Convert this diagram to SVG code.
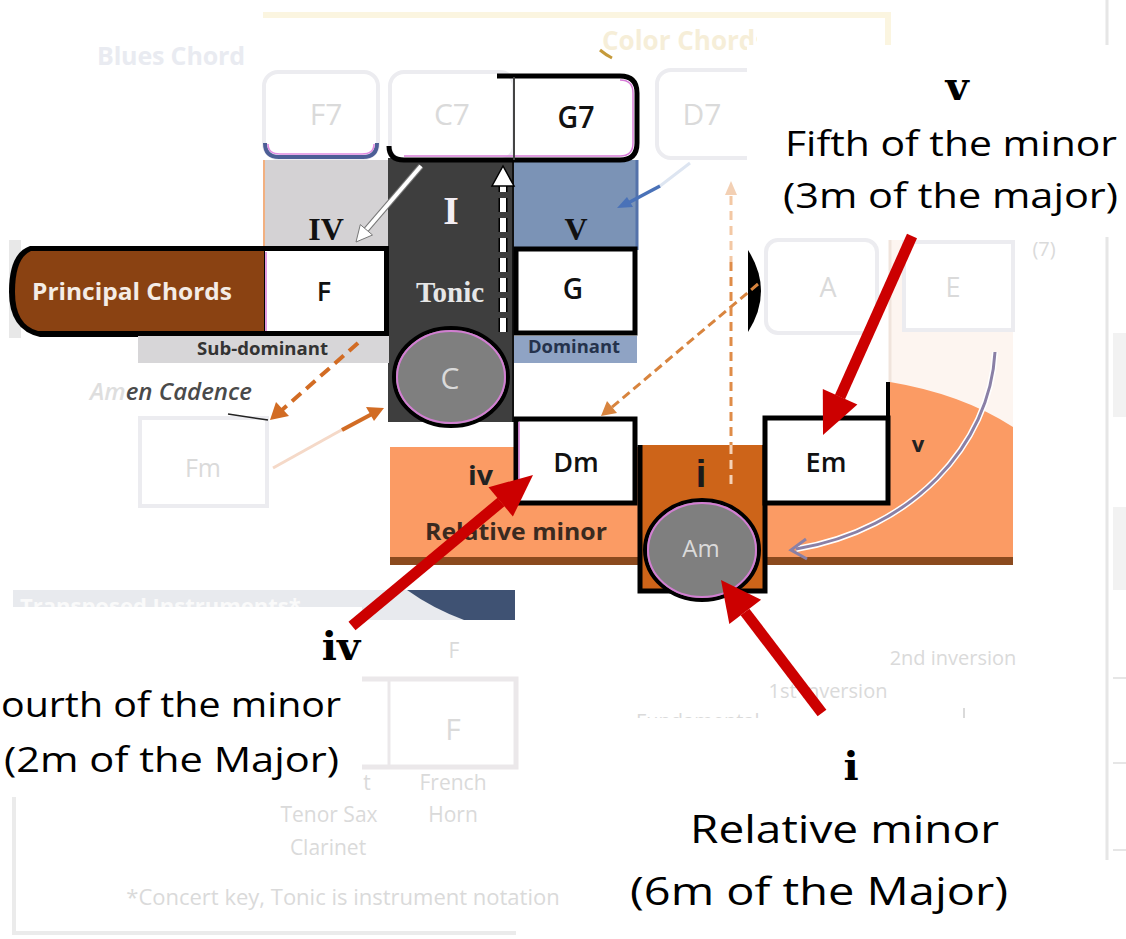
<svg xmlns="http://www.w3.org/2000/svg" width="1126" height="939" viewBox="0 0 1126 939">
<defs>
<style>
.fb{fill:#fff;stroke:#ececf0;stroke-width:4}
.ft{font-family:"Open Sans","Liberation Sans",sans-serif;fill:#dadada;text-anchor:middle}
.ch{font-family:"Open Sans","Liberation Sans",sans-serif;font-weight:600;fill:#111;text-anchor:middle}
.bx{fill:#fff;stroke:#000;stroke-width:5}
.rn{font-family:"Liberation Serif","Times New Roman",serif;font-weight:bold}
.lb{font-family:"Open Sans","Liberation Sans",sans-serif;font-weight:bold}
.an{font-family:"Open Sans","Liberation Sans",sans-serif;fill:#000}
.anr{font-family:"DejaVu Serif",serif;font-weight:bold;fill:#000;text-anchor:middle}
.red{stroke:#cc0000;stroke-width:11;fill:none}
.redh{fill:#cc0000}
.od{stroke:#d26c24;stroke-width:4;fill:none;stroke-dasharray:12 7}
.oh{fill:#d26c24}
.wb{fill:#fff}
</style>
<clipPath id="colorclip"><rect x="0" y="0" width="757" height="80"/></clipPath>
</defs>
<rect width="1126" height="939" fill="#fff"/>

<g id="background-faded">
  <rect x="263" y="12" width="628" height="6" fill="#fbf5e0"/>
  <rect x="885" y="12" width="6" height="36" fill="#fbf5e0"/>
  <text x="97" y="65" font-family="Open Sans, Liberation Sans, sans-serif" font-weight="bold" font-size="25" fill="#e9ebf1" textLength="148">Blues Chord</text>
  <text x="602" y="50" clip-path="url(#colorclip)" font-family="Open Sans, Liberation Sans, sans-serif" font-weight="bold" font-size="26" fill="#f6eed8">Color Chords</text>
  <path d="M600,50 Q606,55 612,58" stroke="#c59a3a" stroke-width="3" fill="none"/>
  <rect x="264" y="72" width="114" height="86" rx="14" class="fb"/>
  <path d="M265,143 Q265,157 279,157 L363,157 Q377,157 377,143" stroke="#4d5e96" stroke-width="4" fill="none"/>
  <path d="M268,144 Q268,154 280,154 L362,154 Q374,154 374,144" stroke="#e08ae0" stroke-width="1.5" fill="none"/>
  <rect x="657" y="70" width="120" height="88" rx="14" class="fb"/>
  <text x="326" y="125" class="ft" font-size="30">F7</text>
  <text x="702" y="125" class="ft" font-size="30">D7</text>
  <rect x="890" y="240" width="123" height="190" fill="#fdf5f0"/>
  <line x1="890" y1="240" x2="890" y2="382" stroke="#f0e4dc" stroke-width="3"/>
  <rect x="766" y="240" width="111" height="93" rx="12" class="fb"/>
  <rect x="904" y="242" width="109" height="88" class="fb"/>
  <text x="828" y="297" class="ft" font-size="27">A</text>
  <text x="953" y="297" class="ft" font-size="27">E</text>
  <text x="1044" y="256" class="ft" font-size="20">(7)</text>
  <line x1="1107" y1="0" x2="1107" y2="860" stroke="#e6e6e6" stroke-width="3"/>
  <rect x="1113" y="333" width="13" height="84" fill="#f2f2f2"/>
  <rect x="1113" y="507" width="13" height="83" fill="#f2f2f2"/>
  <line x1="1113" y1="678" x2="1126" y2="678" stroke="#e6e6e6" stroke-width="2"/>
  <line x1="1113" y1="763" x2="1126" y2="763" stroke="#e6e6e6" stroke-width="2"/>
  <line x1="1113" y1="850" x2="1126" y2="850" stroke="#e6e6e6" stroke-width="2"/>
  <rect x="140" y="418" width="127" height="88" class="fb"/>
  <text x="203" y="477" class="ft" font-size="25">Fm</text>
  <rect x="13" y="590" width="502" height="30" fill="#e8eaee"/>
  <text x="20" y="614" font-family="Open Sans, Liberation Sans, sans-serif" font-weight="bold" font-size="22" fill="#fafafa">Transposed Instruments*</text>
  <path d="M407,590 L515,590 L515,620 L464,620 Q432,608 407,590 Z" fill="#3f5273"/>
  <text x="454" y="658" class="ft" font-size="21">F</text>
  <rect x="250" y="679" width="266" height="88" fill="#fff" stroke="#ebe8ea" stroke-width="5"/>
  <line x1="389" y1="679" x2="389" y2="767" stroke="#ebe8ea" stroke-width="3"/>
  <text x="453" y="740" class="ft" font-size="30" fill="#e2e2e2">F</text>
  <text x="367" y="790" class="ft" font-size="21">t</text>
  <text x="453" y="790" class="ft" font-size="21">French</text>
  <text x="453" y="822" class="ft" font-size="21">Horn</text>
  <text x="329" y="822" class="ft" font-size="21">Tenor Sax</text>
  <text x="328" y="855" class="ft" font-size="21">Clarinet</text>
  <text x="343" y="905" class="ft" font-size="22" fill="#e3e3e3">*Concert key, Tonic is instrument notation</text>
  <path d="M14,797 L14,933 L516,933" stroke="#ebebeb" stroke-width="4" fill="none"/>
  <text x="953" y="665" class="ft" font-size="20">2nd inversion</text>
  <text x="828" y="698" class="ft" font-size="20">1st inversion</text>
  <text x="636" y="728" font-family="Open Sans, Liberation Sans, sans-serif" font-size="20" fill="#dadada">Fundamental</text>
  <line x1="964" y1="708" x2="964" y2="718" stroke="#dadada" stroke-width="2"/>
</g>

<g id="node-IV">
  <rect x="263" y="160" width="126" height="90" fill="#d4d2d4"/>
  <line x1="264" y1="160" x2="264" y2="250" stroke="#f2b080" stroke-width="2"/>
  <text x="326" y="240" class="rn" font-size="32" fill="#111" text-anchor="middle">IV</text>
</g>
<g id="node-V">
  <rect x="514" y="160" width="124" height="90" fill="#7b93b6"/>
  <line x1="637" y1="160" x2="637" y2="250" stroke="#5472aa" stroke-width="3"/>
  <text x="576" y="240" class="rn" font-size="32" fill="#111" text-anchor="middle">V</text>
</g>
<g id="node-I-tonic">
  <rect x="388" y="158" width="126" height="264" fill="#3e3e3e"/>
  <line x1="513" y1="160" x2="513" y2="422" stroke="#111" stroke-width="2"/>
  <text x="451" y="224" class="rn" font-size="40" fill="#f4eef4" text-anchor="middle">I</text>
  <text x="450" y="302" class="rn" font-size="29" fill="#e6e6e6" text-anchor="middle">Tonic</text>
</g>
<g id="node-C7">
  <rect x="390" y="72" width="124" height="88" rx="14" class="fb"/>
  <text x="452" y="125" class="ft" font-size="30">C7</text>
</g>
<g id="node-G7">
  <path d="M514,76 L620,76 Q637,76 637,93 L637,143 Q637,160 620,160 L514,160 Z" fill="#fff"/>
  <path d="M497,76 L620,76 Q637,76 637,93 L637,143 Q637,160 620,160 L404,160 Q389,160 389,146" stroke="#000" stroke-width="5" fill="none"/>
  <path d="M620,80 Q633,80 633,93 L633,143 Q633,156 620,156 L404,156" stroke="#d77cd7" stroke-width="1.5" fill="none"/>
  <line x1="514" y1="77" x2="514" y2="160" stroke="#444" stroke-width="2"/>
  <text x="576" y="128" class="ch" font-size="30" textLength="37" lengthAdjust="spacingAndGlyphs">G7</text>
</g>
<g id="node-principal-chords">
  <rect x="9" y="240" width="12" height="98" fill="#e8e8e8"/>
  <path d="M30,246 L389,246 L389,337 L40,337 Q9,330 9,292 Q9,253 30,246 Z" fill="#000"/>
  <path d="M31,251 L264,251 L264,331 L38,331 Q15,325 15,292 Q15,258 31,251 Z" fill="#8a4212"/>
  <text x="32" y="300" class="lb" font-size="24" fill="#f4ece6" textLength="200" lengthAdjust="spacingAndGlyphs">Principal Chords</text>
</g>
<g id="node-F">
  <rect x="265" y="251" width="119" height="80" fill="#fff"/>
  <line x1="266" y1="252" x2="266" y2="331" stroke="#d77cd7" stroke-width="1.5"/>
  <text x="324" y="301" class="ch" font-size="27">F</text>
</g>
<g id="node-G">
  <rect x="516" y="249" width="119" height="84" class="bx"/>
  <text x="573" y="299" class="ch" font-size="28">G</text>
</g>
<g id="node-subdominant">
  <rect x="138" y="336" width="251" height="27" fill="#d7d6d8"/>
  <text x="197" y="355" class="lb" font-size="17" fill="#333" textLength="131" lengthAdjust="spacingAndGlyphs">Sub-dominant</text>
</g>
<g id="node-dominant">
  <rect x="514" y="336" width="123" height="27" fill="#8fa3c4"/>
  <text x="528" y="353" class="lb" font-size="17" fill="#25324c" textLength="92" lengthAdjust="spacingAndGlyphs">Dominant</text>
</g>
<g id="node-C">
  <ellipse cx="451" cy="377" rx="57" ry="49" fill="#7f7f7f" stroke="#000" stroke-width="4"/>
  <ellipse cx="451" cy="377" rx="54" ry="46" fill="none" stroke="#d27ed2" stroke-width="2"/>
  <text x="450" y="389" class="ft" font-size="30" fill="#f4f4f4">C</text>
</g>
<g id="node-amen-cadence">
  <text x="90" y="400" font-family="Open Sans, Liberation Sans, sans-serif" font-style="italic" font-weight="600" font-size="24" fill="#4a4a4a" textLength="162" lengthAdjust="spacingAndGlyphs"><tspan fill="#dedede">Am</tspan>en Cadence</text>
  <path d="M228,414 L268,420" stroke="#222" stroke-width="1.5"/>
</g>
<g id="node-relative-minor">
  <rect x="390" y="447" width="250" height="118" fill="#fb9b64"/>
  <rect x="390" y="557" width="250" height="8" fill="#8b4a1e"/>
  <text x="468" y="485" class="lb" font-size="27" fill="#222" textLength="25" lengthAdjust="spacingAndGlyphs">iv</text>
  <text x="425" y="540" class="lb" font-size="24" fill="#3a2a20" textLength="182" lengthAdjust="spacingAndGlyphs">Relative minor</text>
</g>
<g id="node-v-region">
  <path d="M890,382 Q962,394 1013,427 L1013,565 L767,565 L767,503 L890,503 Z" fill="#fb9b64"/>
  <rect x="767" y="557" width="246" height="8" fill="#8b4a1e"/>
  <line x1="888" y1="382" x2="888" y2="420" stroke="#000" stroke-width="4"/>
  <text x="918" y="452" class="lb" font-size="22" fill="#222" text-anchor="middle">v</text>
</g>
<g id="node-Dm">
  <rect x="516" y="419" width="119" height="84" class="bx"/>
  <line x1="519" y1="422" x2="519" y2="500" stroke="#d77cd7" stroke-width="1.5"/>
  <text x="576" y="472" class="ch" font-size="27">Dm</text>
</g>
<g id="node-i">
  <rect x="640" y="445" width="125" height="146" fill="#cd6419"/>
  <path d="M640,445 L640,591 L765,591 L765,445" stroke="#000" stroke-width="5" fill="none"/>
  <text x="701" y="487" font-family="Liberation Sans, sans-serif" font-weight="bold" font-size="38" fill="#1a1a1a" text-anchor="middle">i</text>
</g>
<g id="node-Am">
  <ellipse cx="702" cy="550" rx="57" ry="50" fill="#7f7f7f" stroke="#000" stroke-width="4"/>
  <ellipse cx="702" cy="550" rx="54" ry="47" fill="none" stroke="#d27ed2" stroke-width="2"/>
  <text x="701" y="557" class="ft" font-size="24" fill="#f4f4f4">Am</text>
</g>
<g id="node-Em">
  <rect x="765" y="418" width="123" height="85" class="bx"/>
  <text x="826" y="472" class="ch" font-size="27">Em</text>
</g>
<path d="M748,250 Q774,291 748,332 Z" fill="#000"/>

<g id="connectors">
  <path d="M421,166 L366,230" stroke="#777" stroke-width="6"/>
  <path d="M421,166 L366,230" stroke="#fff" stroke-width="4"/>
  <polygon points="356,242 372.5,235 360.3,224.6" fill="#fff" stroke="#777" stroke-width="1"/>
  <line x1="503" y1="332" x2="503" y2="182" stroke="#000" stroke-width="9" stroke-dasharray="14 6"/>
  <line x1="503" y1="332" x2="503" y2="182" stroke="#fff" stroke-width="6" stroke-dasharray="14 6"/>
  <polygon points="503,166 492,186 514,186" fill="#fff" stroke="#000" stroke-width="1.5"/>
  <line x1="358" y1="343" x2="282" y2="410" class="od"/>
  <polygon points="270,420 276,402 289,416" class="oh"/>
  <line x1="273" y1="468" x2="345" y2="428" stroke="#f5d9c8" stroke-width="3"/>
  <line x1="342" y1="430" x2="372" y2="414" stroke="#d26c24" stroke-width="4"/>
  <polygon points="384,408 366,407 374,421" class="oh"/>
  <line x1="758" y1="284" x2="611" y2="408" stroke="#d8843e" stroke-width="3" stroke-dasharray="9 5"/>
  <polygon points="601,416 607,401 617,413" fill="#d8843e"/>
  <line x1="731" y1="196" x2="731" y2="262" stroke="#f3c8a4" stroke-width="3" stroke-dasharray="9 6"/>
  <line x1="731" y1="262" x2="731" y2="445" stroke="#df8c48" stroke-width="3" stroke-dasharray="9 6"/>
  <line x1="731" y1="445" x2="731" y2="487" stroke="#f5d2b6" stroke-width="3" stroke-dasharray="9 6"/>
  <polygon points="731,181 725,195 737,195" fill="#f3d0b4"/>
  <line x1="690" y1="163" x2="660" y2="186" stroke="#dde5f1" stroke-width="3"/>
  <line x1="660" y1="186" x2="628" y2="203" stroke="#4a72b8" stroke-width="3.5"/>
  <polygon points="617,208 627,197 633,207" fill="#4a72b8"/>
  <path d="M995,352 C990,445 912,530 796,549" stroke="#fff" stroke-width="6" fill="none"/>
  <path d="M995,352 C990,445 912,530 796,549" stroke="#8a80a6" stroke-width="3" fill="none"/>
  <path d="M806,539 L791,550 L807,559" stroke="#8a80a6" stroke-width="3" fill="none"/>
</g>

<g id="annotation-v">
  <rect x="747" y="45" width="379" height="192" class="wb"/>
  <text x="957" y="100" class="anr" font-size="40">v</text>
  <text x="785" y="156" class="an" font-size="34" textLength="332" lengthAdjust="spacingAndGlyphs">Fifth of the minor</text>
  <text x="783" y="208" class="an" font-size="34" textLength="335" lengthAdjust="spacingAndGlyphs">(3m of the major)</text>
</g>
<g id="annotation-iv">
  <rect x="0" y="607" width="362" height="190" class="wb"/>
  <text x="341" y="660" class="anr" font-size="40" text-anchor="end">iv</text>
  <text x="1" y="717" class="an" font-size="34" textLength="340" lengthAdjust="spacingAndGlyphs">ourth of the minor</text>
  <text x="4" y="772" class="an" font-size="34" textLength="335" lengthAdjust="spacingAndGlyphs">(2m of the Major)</text>
</g>
<g id="annotation-i">
  <rect x="590" y="718" width="515" height="221" class="wb"/>
  <text x="851" y="780" class="anr" font-size="40">i</text>
  <text x="690" y="843" class="an" font-size="38" textLength="309" lengthAdjust="spacingAndGlyphs">Relative minor</text>
  <text x="630" y="905" class="an" font-size="38" textLength="378" lengthAdjust="spacingAndGlyphs">(6m of the Major)</text>
</g>

<g id="red-arrows">
  <line x1="912" y1="236" x2="840" y2="397" class="red"/>
  <polygon points="823,435 857.4,404.4 822.8,389" class="redh"/>
  <line x1="352" y1="626" x2="501" y2="502" class="red"/>
  <polygon points="533,475 512.9,516.5 488.5,487.3" class="redh"/>
  <line x1="822" y1="713" x2="745" y2="612" class="red"/>
  <polygon points="721,580 761.1,599.7 729.3,623.9" class="redh"/>
</g>
</svg>
